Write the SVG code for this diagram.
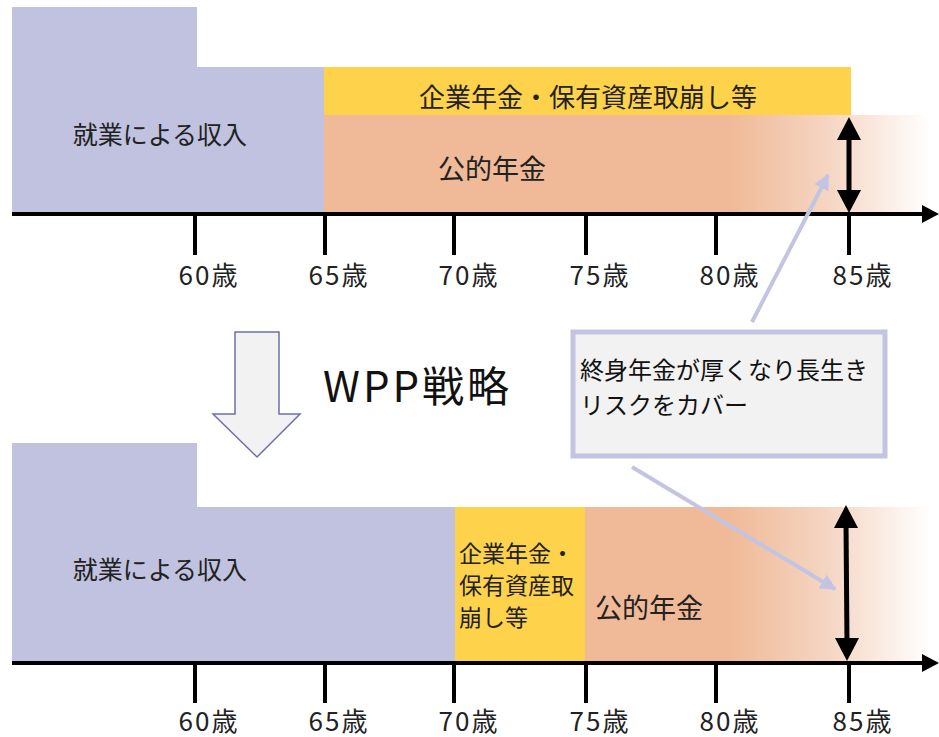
<svg xmlns="http://www.w3.org/2000/svg" width="939" height="737" viewBox="0 0 939 737">
<style>
text{font-family:"Noto Sans CJK JP","Noto Sans",sans-serif;fill:#222}
.lbl{font-size:25px}
.pub{font-size:27px}
.age{font-size:26px;letter-spacing:2px}
.axis{stroke:#000;stroke-width:4;fill:none}
.tick{stroke:#000;stroke-width:4}
.call{stroke:#c3c4e2;stroke-width:4;fill:none}
</style>
<defs>
<linearGradient id="fade" gradientUnits="userSpaceOnUse" x1="324" y1="0" x2="930" y2="0">
<stop offset="0" stop-color="#f0ba98"/>
<stop offset="0.67" stop-color="#f0ba98"/>
<stop offset="0.83" stop-color="#f5d5c2"/>
<stop offset="1" stop-color="#ffffff"/>
</linearGradient>
<marker id="ah" viewBox="0 0 10 10" refX="9" refY="5" markerWidth="4" markerHeight="4" orient="auto" markerUnits="strokeWidth">
<path d="M0,0 L10,5 L0,10 z" fill="#c3c4e2"/>
</marker>
</defs>

<!-- top section -->
<g id="top-work">
<path d="M12,7 H197 V67 H324 V214 H12 Z" fill="#c1c2e0"/>
<text class="lbl" x="160" y="144" text-anchor="middle">就業による収入</text>
</g>
<g id="top-corp">
<rect x="324" y="67" width="527" height="48" fill="#ffd24b"/>
<text x="588" y="107" font-size="26" text-anchor="middle">企業年金・保有資産取崩し等</text>
</g>
<g id="top-public">
<rect x="324" y="115" width="606" height="99" fill="url(#fade)"/>
<text class="pub" x="492" y="179" text-anchor="middle">公的年金</text>
</g>
<g id="top-axis">
<line class="axis" x1="12" y1="214" x2="928" y2="214"/>
<polygon points="922,205 939,214 922,223" fill="#000"/>
<line class="tick" x1="195" y1="214" x2="195" y2="255"/>
<line class="tick" x1="325" y1="214" x2="325" y2="255"/>
<line class="tick" x1="454" y1="214" x2="454" y2="255"/>
<line class="tick" x1="586" y1="214" x2="586" y2="255"/>
<line class="tick" x1="716" y1="214" x2="716" y2="255"/>
<line class="tick" x1="849" y1="214" x2="849" y2="255"/>
<text class="age" x="209" y="285" text-anchor="middle">60歳</text>
<text class="age" x="339" y="285" text-anchor="middle">65歳</text>
<text class="age" x="469" y="285" text-anchor="middle">70歳</text>
<text class="age" x="600" y="285" text-anchor="middle">75歳</text>
<text class="age" x="730" y="285" text-anchor="middle">80歳</text>
<text class="age" x="863" y="285" text-anchor="middle">85歳</text>
</g>
<g id="top-span">
<line x1="849" y1="132" x2="849" y2="198" stroke="#000" stroke-width="5"/>
<polygon points="849,117 861,140 837,140" fill="#000"/>
<polygon points="849,213 861,190 837,190" fill="#000"/>
</g>

<!-- middle -->
<g id="strategy-arrow">
<path d="M235,332 H279 V414 H300 L257,457 L213,414 H235 Z" fill="#f2f2f2" stroke="#6e70a8" stroke-width="1.5"/>
</g>
<g id="strategy-label">
<text x="323" y="402" font-size="42" letter-spacing="3" style="fill:#111">WPP戦略</text>
</g>

<!-- bottom section -->
<g id="bot-work">
<path d="M12,443 H197 V507 H455 V663 H12 Z" fill="#c1c2e0"/>
<text class="lbl" x="160" y="579" text-anchor="middle">就業による収入</text>
</g>
<g id="bot-corp">
<rect x="455" y="507" width="130" height="156" fill="#ffd24b"/>
<text font-size="23" x="459" y="562">企業年金・</text>
<text font-size="23" x="459" y="594">保有資産取</text>
<text font-size="23" x="459" y="626">崩し等</text>
</g>
<g id="bot-public">
<rect x="585" y="507" width="345" height="156" fill="url(#fade)"/>
<text class="pub" x="649" y="618" text-anchor="middle">公的年金</text>
</g>
<g id="bot-axis">
<line class="axis" x1="12" y1="663" x2="928" y2="663"/>
<polygon points="922,654 939,663 922,672" fill="#000"/>
<line class="tick" x1="195" y1="663" x2="195" y2="703"/>
<line class="tick" x1="325" y1="663" x2="325" y2="703"/>
<line class="tick" x1="454" y1="663" x2="454" y2="703"/>
<line class="tick" x1="586" y1="663" x2="586" y2="703"/>
<line class="tick" x1="716" y1="663" x2="716" y2="703"/>
<line class="tick" x1="849" y1="663" x2="849" y2="703"/>
<text class="age" x="209" y="731" text-anchor="middle">60歳</text>
<text class="age" x="339" y="731" text-anchor="middle">65歳</text>
<text class="age" x="469" y="731" text-anchor="middle">70歳</text>
<text class="age" x="600" y="731" text-anchor="middle">75歳</text>
<text class="age" x="730" y="731" text-anchor="middle">80歳</text>
<text class="age" x="863" y="731" text-anchor="middle">85歳</text>
</g>
<g id="bot-span">
<line x1="846" y1="522" x2="847" y2="645" stroke="#000" stroke-width="5"/>
<polygon points="846,505 858,528 834,528" fill="#000"/>
<polygon points="847,661 859,638 835,638" fill="#000"/>
</g>

<!-- callout -->
<g id="callout">
<rect x="573" y="332" width="312" height="124" fill="#f2f2f2" stroke="#c3c4e2" stroke-width="5"/>
<text x="580" y="379" font-size="24" style="fill:#111">終身年金が厚くなり長生き</text>
<text x="580" y="414" font-size="24" style="fill:#111">リスクをカバー</text>
</g>
<g id="connectors">
<line class="call" x1="752" y1="322" x2="828" y2="175" marker-end="url(#ah)"/>
<line class="call" x1="632" y1="467" x2="835" y2="589" marker-end="url(#ah)"/>
</g>
</svg>
